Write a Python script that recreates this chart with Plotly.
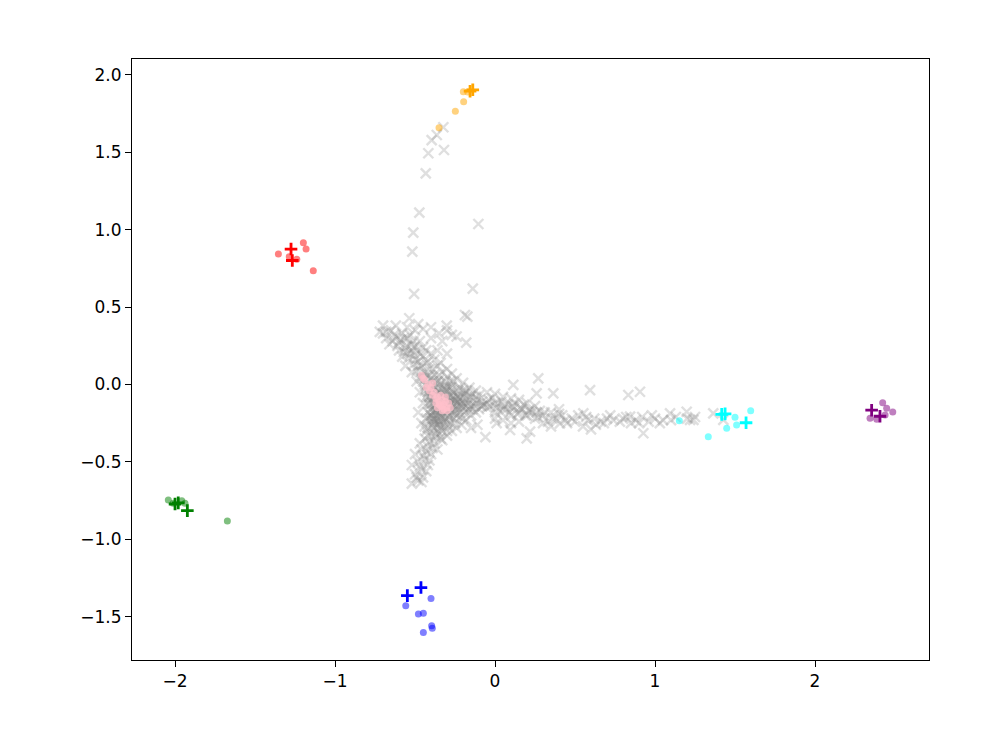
import plotly.graph_objects as go

# ---------------- data ----------------
gray_pts = [
    # top arm
    (-0.323, 1.662), (-0.396, 1.579), (-0.364, 1.612), (-0.417, 1.494), (-0.319, 1.515),
    (-0.433, 1.364), (-0.473, 1.110), (-0.511, 0.981), (-0.104, 1.037), (-0.517, 0.858),
    (-0.506, 0.585), (-0.139, 0.619), (-0.188, 0.449), (-0.173, 0.438), (-0.536, 0.428),
    (-0.302, 0.380),
    # upper-left arm
    (-0.70, 0.33), (-0.68, 0.30), (-0.65, 0.35), (-0.62, 0.31), (-0.60, 0.27), (-0.58, 0.33),
    (-0.56, 0.24), (-0.55, 0.30), (-0.53, 0.20), (-0.52, 0.26), (-0.50, 0.16), (-0.50, 0.35),
    (-0.49, 0.22), (-0.48, 0.12), (-0.47, 0.28), (-0.46, 0.08), (-0.45, 0.18), (-0.44, 0.04),
    (-0.43, 0.14), (-0.42, 0.00), (-0.41, 0.10), (-0.40, 0.30), (-0.38, 0.06), (-0.37, -0.02),
    (-0.36, 0.22), (-0.33, 0.28), (-0.30, 0.20), (-0.28, 0.02), (-0.45, 0.36), (-0.55, 0.20),
    (-0.60, 0.22), (-0.66, 0.26), (-0.18, 0.27), (-0.24, 0.31),
    (-0.64, 0.28), (-0.61, 0.25), (-0.59, 0.29), (-0.57, 0.21), (-0.55, 0.25), (-0.54, 0.17),
    (-0.52, 0.22), (-0.51, 0.13), (-0.50, 0.19), (-0.49, 0.09), (-0.48, 0.15), (-0.47, 0.05),
    (-0.46, 0.12), (-0.45, 0.02), (-0.44, 0.08), (-0.43, -0.01), (-0.42, 0.05), (-0.41, -0.04),
    (-0.57, 0.30), (-0.53, 0.32), (-0.63, 0.32), (-0.68, 0.34), (-0.51, 0.28),
    (-0.72, 0.34), (-0.70, 0.38), (-0.62, 0.38), (-0.55, 0.37), (-0.48, 0.39), (-0.40, 0.37),
    (-0.35, 0.33), (-0.30, 0.35), (-0.27, 0.32),
    # bottom arm
    (-0.40, -0.20), (-0.38, -0.25), (-0.42, -0.28), (-0.36, -0.30), (-0.40, -0.33),
    (-0.44, -0.35), (-0.38, -0.38), (-0.42, -0.40), (-0.46, -0.42), (-0.40, -0.45),
    (-0.44, -0.48), (-0.48, -0.50), (-0.42, -0.52), (-0.46, -0.55), (-0.50, -0.58),
    (-0.48, -0.62), (-0.52, -0.64), (-0.45, -0.60), (-0.34, -0.35), (-0.30, -0.30),
    (-0.36, -0.42), (-0.50, -0.45), (-0.52, -0.52), (-0.47, -0.38), (-0.06, -0.34),
    (-0.15, -0.28), (-0.11, -0.26),
    (-0.41, -0.22), (-0.39, -0.27), (-0.43, -0.30), (-0.37, -0.34), (-0.41, -0.37),
    (-0.43, -0.43), (-0.39, -0.41), (-0.45, -0.46), (-0.41, -0.49), (-0.47, -0.53),
    (-0.43, -0.56), (-0.49, -0.60), (-0.46, -0.63), (-0.44, -0.27), (-0.38, -0.22),
    (-0.35, -0.26), (-0.42, -0.33),
    # right arm
    (-0.25, -0.10), (-0.20, -0.12), (-0.18, -0.05), (-0.15, -0.14), (-0.12, -0.08),
    (-0.10, -0.16), (-0.08, -0.11), (-0.05, -0.15), (-0.02, -0.09), (0.00, -0.18),
    (0.02, -0.12), (0.05, -0.16), (0.08, -0.13), (0.10, -0.20), (0.12, -0.15),
    (0.15, -0.18), (0.18, -0.13), (0.20, -0.20), (0.22, -0.16), (0.25, -0.22),
    (0.28, -0.17), (0.30, -0.20), (0.33, -0.24), (0.35, -0.18), (0.38, -0.22),
    (0.42, -0.20), (0.45, -0.25), (0.48, -0.22), (0.52, -0.20), (0.55, -0.27),
    (0.58, -0.23), (0.60, -0.29), (0.62, -0.22), (0.66, -0.24), (0.70, -0.22),
    (0.74, -0.23), (0.78, -0.24), (0.82, -0.21), (0.85, -0.25), (0.88, -0.23),
    (0.92, -0.21), (0.96, -0.24), (1.00, -0.22), (1.05, -0.23), (1.10, -0.23),
    (1.20, -0.22), (1.25, -0.21),
    (0.114, -0.003), (0.270, 0.040), (0.260, -0.057), (0.364, -0.057), (0.594, -0.036),
    (0.094, -0.294), (0.198, -0.348), (0.219, -0.305), (0.406, -0.251), (0.552, -0.186),
    (0.833, -0.068), (0.906, -0.047), (0.844, -0.208), (0.927, -0.315), (1.094, -0.186),
    (1.198, -0.176), (1.219, -0.229), (1.364, -0.186), (1.240, -0.229), (1.427, -0.229),
    (0.010, -0.250),
    (-0.03, -0.14), (0.00, -0.12), (0.03, -0.17), (0.06, -0.14), (0.09, -0.18),
    (0.11, -0.14), (0.14, -0.19), (0.17, -0.16), (0.19, -0.20), (0.23, -0.18),
    (0.27, -0.21), (0.31, -0.18), (0.36, -0.22), (0.40, -0.19), (0.44, -0.23),
    (0.50, -0.24), (0.57, -0.21), (0.63, -0.26), (0.68, -0.25), (0.72, -0.20),
    (0.80, -0.22), (0.90, -0.25), (0.98, -0.20), (1.03, -0.25), (1.13, -0.21),
    (-0.05, -0.05), (0.00, -0.06), (0.05, -0.08), (0.10, -0.09), (0.15, -0.10),
    (0.20, -0.12), (0.25, -0.14), (0.00, -0.22), (0.05, -0.23), (0.10, -0.25),
    (0.15, -0.24), (0.30, -0.25), (0.35, -0.27), (0.40, -0.16),
    (-0.08, -0.14), (-0.04, -0.10), (0.01, -0.15), (0.04, -0.11), (0.07, -0.16),
    (0.12, -0.12), (0.16, -0.15), (0.21, -0.17), (0.26, -0.18),
    # dense core
    (-0.42, -0.05), (-0.40, -0.10), (-0.38, -0.02), (-0.36, -0.12), (-0.34, -0.06),
    (-0.32, -0.15), (-0.30, -0.08), (-0.28, -0.12), (-0.26, -0.05), (-0.24, -0.14),
    (-0.22, -0.09), (-0.40, -0.16), (-0.37, -0.20), (-0.35, -0.24), (-0.33, -0.18),
    (-0.31, -0.22), (-0.29, -0.17), (-0.39, 0.02), (-0.41, -0.13), (-0.43, -0.08),
    (-0.35, 0.03), (-0.32, -0.01), (-0.30, -0.04), (-0.27, -0.10), (-0.25, -0.16),
    (-0.23, -0.11), (-0.20, -0.08), (-0.18, -0.14), (-0.38, -0.08), (-0.36, -0.16),
    (-0.34, -0.10), (-0.33, -0.13), (-0.31, -0.07), (-0.29, -0.11), (-0.39, -0.12),
    (-0.37, -0.06), (-0.42, -0.18), (-0.38, -0.28), (-0.36, -0.22), (-0.34, -0.27),
    (-0.40, -0.24), (-0.44, 0.00), (-0.46, 0.04), (-0.41, 0.06), (-0.28, -0.02),
    (-0.22, -0.18), (-0.16, -0.10), (-0.14, -0.16), (-0.12, -0.12), (-0.35, -0.14),
    (-0.33, -0.08), (-0.37, -0.10), (-0.30, -0.13), (-0.32, -0.10), (-0.26, -0.08),
    (-0.24, -0.12), (-0.41, -0.02), (-0.39, -0.18), (-0.35, -0.19), (-0.43, -0.22),
    (-0.37, -0.32), (-0.33, -0.30),
    (-0.40, -0.06), (-0.38, -0.14), (-0.36, -0.04), (-0.34, -0.16), (-0.32, -0.05),
    (-0.30, -0.18), (-0.28, -0.07), (-0.26, -0.13), (-0.24, -0.07), (-0.22, -0.13),
    (-0.20, -0.15), (-0.18, -0.09), (-0.36, -0.18), (-0.34, -0.21), (-0.32, -0.19),
    (-0.30, -0.24), (-0.28, -0.20), (-0.38, -0.17), (-0.40, -0.20), (-0.33, -0.03),
    (-0.31, -0.12), (-0.29, -0.09), (-0.27, -0.15), (-0.25, -0.10), (-0.23, -0.16),
    (-0.21, -0.11), (-0.19, -0.18), (-0.17, -0.12), (-0.15, -0.08), (-0.13, -0.14),
    (-0.11, -0.10), (-0.09, -0.14), (-0.07, -0.13), (-0.05, -0.12), (-0.39, -0.08),
    (-0.37, -0.13), (-0.35, -0.09), (-0.33, -0.12), (-0.31, -0.16), (-0.29, -0.14),
    (-0.27, -0.18), (-0.26, -0.22), (-0.24, -0.20), (-0.34, -0.00), (-0.36, 0.02),
    (-0.30, -0.01), (-0.32, -0.24), (-0.38, -0.24),
    (-0.41, -0.08), (-0.39, -0.04), (-0.37, -0.16), (-0.35, -0.05), (-0.33, -0.21),
    (-0.31, -0.03), (-0.29, -0.21), (-0.27, -0.04), (-0.25, -0.19), (-0.23, -0.08),
    (-0.21, -0.14), (-0.19, -0.06), (-0.17, -0.16), (-0.36, -0.26), (-0.34, -0.24),
    (-0.39, -0.22), (-0.42, -0.12), (-0.44, -0.04), (-0.40, 0.04), (-0.37, 0.01),
    (-0.32, -0.27), (-0.28, -0.25), (-0.22, -0.21), (-0.20, -0.04),
    # triangle fill between the arms
    (-0.50, 0.25), (-0.45, 0.24), (-0.40, 0.20), (-0.42, 0.15), (-0.36, 0.12), (-0.38, 0.16),
    (-0.33, 0.08), (-0.30, 0.05), (-0.26, 0.02), (-0.22, -0.02), (-0.18, -0.04), (-0.14, -0.06),
    (-0.34, 0.14), (-0.30, 0.10), (-0.27, 0.07), (-0.24, 0.04), (-0.20, 0.01), (-0.16, -0.02),
    (-0.12, -0.04), (-0.10, -0.07), (-0.15, -0.20), (-0.18, -0.23), (-0.21, -0.26),
    (-0.24, -0.28), (-0.27, -0.30), (-0.30, -0.33), (-0.33, -0.36), (-0.12, -0.18),
    (-0.16, -0.16), (-0.20, -0.22), (-0.25, -0.25), (-0.29, -0.27), (-0.35, -0.32),
    (-0.47, 0.20), (-0.43, 0.22), (-0.39, 0.10), (-0.35, 0.06), (-0.31, 0.02), (-0.27, -0.01),
    (-0.23, -0.04), (-0.45, -0.12), (-0.47, -0.05), (-0.48, -0.18), (-0.46, -0.25),
    (-0.49, 0.02), (-0.52, 0.08), (-0.56, 0.12), (-0.58, 0.18),
]
gray_x = [p[0] for p in gray_pts]
gray_y = [p[1] for p in gray_pts]

pink_x = [-0.46, -0.44, -0.42, -0.40, -0.38, -0.36, -0.35, -0.33, -0.32, -0.30,
          -0.34, -0.31, -0.37, -0.29, -0.33, -0.43, -0.39,
          -0.45, -0.41, -0.39, -0.37, -0.35, -0.33, -0.31, -0.30, -0.28, -0.34,
          -0.36, -0.32]
pink_y = [0.06, 0.03, 0.00, -0.02, -0.05, -0.08, -0.11, -0.10, -0.13, -0.15,
          -0.14, -0.08, -0.12, -0.12, -0.17, -0.02, 0.01,
          0.04, -0.04, -0.07, -0.09, -0.13, -0.14, -0.11, -0.17, -0.15, -0.07,
          -0.15, -0.16]

clusters = {
    "orange": dict(
        dx=[-0.350, -0.248, -0.196, -0.198, -0.170],
        dy=[1.659, 1.765, 1.827, 1.891, 1.890],
        px=[-0.156, -0.139],
        py=[1.895, 1.904]),
    "red": dict(
        dx=[-1.354, -1.198, -1.181, -1.239, -1.136, -1.286],
        dy=[0.843, 0.916, 0.875, 0.809, 0.735, 0.826],
        px=[-1.275, -1.267],
        py=[0.875, 0.801]),
    "green": dict(
        dx=[-2.042, -1.958, -1.938, -1.673, -2.011],
        dy=[-0.746, -0.751, -0.767, -0.882, -0.767],
        px=[-2.000, -1.923, -1.980],
        py=[-0.772, -0.815, -0.765]),
    "blue": dict(
        dx=[-0.558, -0.400, -0.479, -0.448, -0.396, -0.448, -0.392],
        dy=[-1.429, -1.382, -1.483, -1.478, -1.559, -1.602, -1.575],
        px=[-0.548, -0.463],
        py=[-1.364, -1.312]),
    "cyan": dict(
        dx=[1.333, 1.448, 1.500, 1.510, 1.598, 1.152],
        dy=[-0.337, -0.283, -0.212, -0.262, -0.169, -0.234],
        px=[1.417, 1.569, 1.438],
        py=[-0.193, -0.247, -0.190]),
    "purple": dict(
        dx=[2.423, 2.448, 2.486, 2.344, 2.386, 2.438],
        dy=[-0.118, -0.154, -0.178, -0.218, -0.225, -0.197],
        px=[2.354, 2.406],
        py=[-0.166, -0.205]),
}

x_ticks = [-2, -1, 0, 1, 2]
y_ticks = [-1.5, -1.0, -0.5, 0.0, 0.5, 1.0, 1.5, 2.0]

# ---------------- figure ----------------
fig = go.Figure()

fig.add_trace(go.Scatter(
    x=gray_x, y=gray_y, mode="markers",
    marker=dict(symbol="x-thin", size=10, color="rgba(128,128,128,0.25)",
                line=dict(width=2.4, color="rgba(128,128,128,0.25)")),
    hoverinfo="skip", showlegend=False))

fig.add_trace(go.Scatter(
    x=pink_x, y=pink_y, mode="markers",
    marker=dict(symbol="circle", size=7, color="pink", opacity=0.75,
                line=dict(width=0)),
    showlegend=False))

for col, c in clusters.items():
    fig.add_trace(go.Scatter(
        x=c["dx"], y=c["dy"], mode="markers",
        marker=dict(symbol="circle", size=7, color=col, opacity=0.5,
                    line=dict(width=0)),
        showlegend=False))

for col, c in clusters.items():
    fig.add_trace(go.Scatter(
        x=c["px"], y=c["py"], mode="markers",
        marker=dict(symbol="cross-thin", size=9, color=col,
                    line=dict(width=2.8, color=col)),
        showlegend=False))

axis_common = dict(
    showline=True, linecolor="black", linewidth=1, mirror=True,
    ticks="outside", ticklen=6, tickcolor="black", tickwidth=1,
    showgrid=False, zeroline=False,
    tickfont=dict(family="DejaVu Sans", size=17, color="black"),
)

fig.update_layout(
    width=1000, height=752,
    margin=dict(l=124, r=79, t=51, b=100),
    plot_bgcolor="white", paper_bgcolor="white",
    xaxis=dict(range=[-2.269, 2.7125], tickvals=x_ticks,
               ticktext=[("\u2212" if v < 0 else "") + str(abs(v)) for v in x_ticks],
               **axis_common),
    yaxis=dict(range=[-1.78, 2.103], tickvals=y_ticks,
               ticktext=[("\u2212" if v < 0 else "") + f"{abs(v):.1f}" for v in y_ticks],
               **axis_common),
)

fig.write_html("out.html")
